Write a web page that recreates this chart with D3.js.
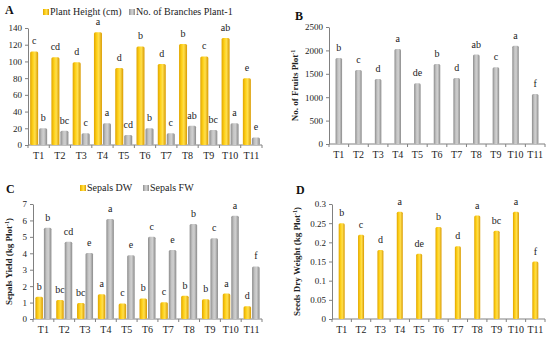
<!DOCTYPE html>
<html>
<head>
<meta charset="utf-8">
<script src="https://cdn.jsdelivr.net/npm/d3@7"></script>
<style>
  body { margin: 0; padding: 0; background: #fff; }
  svg { display: block; font-family: 'Liberation Serif', 'Times New Roman', serif; }
</style>
</head>
<body>
<div id="main"></div>
<script>
const treatments = ['T1', 'T2', 'T3', 'T4', 'T5', 'T6', 'T7', 'T8', 'T9', 'T10', 'T11'];

const plantHeight = [112, 105, 99, 135, 92, 118, 97, 121, 106, 128, 80];
const plantHeightLetters = ['c', 'cd', 'd', 'a', 'd', 'b', 'd', 'b', 'c', 'ab', 'e'];
const branches = [20, 17, 14, 26, 12, 20, 14, 23, 18, 26, 9];
const branchesLetters = ['b', 'bc', 'c', 'a', 'cd', 'b', 'c', 'ab', 'bc', 'a', 'e'];

const fruits = [1840, 1580, 1390, 2030, 1300, 1710, 1410, 1910, 1640, 2100, 1070];
const fruitsLetters = ['b', 'c', 'd', 'a', 'de', 'b', 'd', 'ab', 'c', 'a', 'f'];

const sepalsDW = [1.35, 1.15, 0.98, 1.5, 0.95, 1.25, 1.02, 1.42, 1.2, 1.55, 0.77];
const sepalsDWLetters = ['b', 'bc', 'bc', 'a', 'c', 'b', 'c', 'b', 'b', 'a', 'd'];
const sepalsFW = [5.55, 4.7, 4.02, 6.08, 3.88, 5.0, 4.2, 5.78, 4.92, 6.28, 3.2];
const sepalsFWLetters = ['b', 'cd', 'e', 'a', 'e', 'c', 'e', 'b', 'c', 'a', 'f'];

const seedsDW = [0.25, 0.22, 0.18, 0.28, 0.17, 0.24, 0.19, 0.27, 0.23, 0.28, 0.15];
const seedsDWLetters = ['b', 'c', 'd', 'a', 'de', 'b', 'd', 'a', 'bc', 'a', 'f'];

const svg = d3.select('#main').append('svg').attr('width', 550).attr('height', 338);

const defs = svg.append('defs');
const makeGradient = (id, stops) => {
    const g = defs.append('linearGradient').attr('id', id).attr('x1', '0%').attr('x2', '100%').attr('y1', '0%').attr('y2', '0%');
    stops.forEach(([o, c]) => g.append('stop').attr('offset', o).attr('stop-color', c));
};
makeGradient('gradYellow', [['0%', '#e0a500'], ['35%', '#ffd21a'], ['60%', '#ffdf4d'], ['100%', '#d99a00']]);
makeGradient('gradGrey', [['0%', '#8c8c8c'], ['35%', '#c4c4c4'], ['60%', '#cfcfcf'], ['100%', '#8a8a8a']]);

const panel = (props) => {
    const { x0, x1, y0, y1, max, ticks, fmt, series, barW, yTitle, label, labelX, labelY } = props;
    const g = svg.append('g');
    const x = d3.scaleBand().domain(treatments).range([x0, x1]);
    const y = d3.scaleLinear().domain([0, max]).range([y1, y0]);

    const yAxis = d3.axisLeft(y).tickValues(ticks).tickFormat(fmt).tickSize(3).tickSizeOuter(0);
    const ya = g.append('g').attr('transform', `translate(${x0},0)`).call(yAxis);
    ya.select('.domain').attr('stroke', '#808080');
    ya.selectAll('.tick line').attr('stroke', '#808080');
    ya.selectAll('text').attr('font-size', 9).attr('fill', '#222').attr('font-family', 'Liberation Serif');

    const xa = g.append('g').attr('transform', `translate(0,${y1})`);
    xa.append('line').attr('x1', x0).attr('x2', x1).attr('stroke', '#808080');
    xa.selectAll('line.tk').data(d3.range(treatments.length + 1)).enter().append('line').attr('class', 'tk')
        .attr('x1', (d) => x0 + d * x.step()).attr('x2', (d) => x0 + d * x.step())
        .attr('y1', 0).attr('y2', 3).attr('stroke', '#808080');
    xa.selectAll('text').data(treatments).enter().append('text')
        .attr('x', (d) => x(d) + x.bandwidth() / 2).attr('y', 14)
        .attr('text-anchor', 'middle').attr('font-size', 10).attr('fill', '#222').text((d) => d);

    const groupW = series.length * barW + (series.length - 1);
    series.forEach((s, si) => {
        const off = (x.bandwidth() - groupW) / 2 + si * (barW + 1);
        g.selectAll(null).data(s.values).enter().append('rect')
            .attr('x', (d, i) => x(treatments[i]) + off)
            .attr('y', (d) => y(d))
            .attr('width', barW)
            .attr('height', (d) => y1 - y(d))
            .attr('rx', 1.5)
            .attr('fill', s.fill);
        g.selectAll(null).data(s.values).enter().append('text')
            .attr('x', (d, i) => x(treatments[i]) + off + barW / 2)
            .attr('y', (d) => y(d) - 7)
            .attr('text-anchor', 'middle').attr('font-size', 10).attr('fill', '#222')
            .text((d, i) => s.letters[i]);
    });

    if (yTitle) {
        const t = g.append('text')
            .attr('transform', `translate(${props.titleX},${(y0 + y1) / 2}) rotate(-90)`)
            .attr('text-anchor', 'middle').attr('font-size', 9).attr('font-weight', 'bold').attr('fill', '#222');
        t.append('tspan').text(yTitle);
        t.append('tspan').attr('dy', -3).attr('font-size', 6).text('-1');
        t.append('tspan').attr('dy', 3).text(props.titleEnd || '');
    }
    svg.append('text').attr('x', labelX).attr('y', labelY).attr('font-size', 12).attr('font-weight', 'bold').attr('fill', '#111').text(label);
    return g;
};

panel({
    x0: 28, x1: 262, y0: 28, y1: 145, max: 140, ticks: d3.range(0, 141, 20), fmt: d3.format('d'),
    series: [
        { values: plantHeight, letters: plantHeightLetters, fill: 'url(#gradYellow)' },
        { values: branches, letters: branchesLetters, fill: 'url(#gradGrey)' }
    ],
    barW: 8, label: 'A', labelX: 5, labelY: 14
});

panel({
    x0: 329, x1: 545, y0: 27, y1: 144, max: 2500, ticks: d3.range(0, 2501, 500), fmt: d3.format('d'),
    series: [{ values: fruits, letters: fruitsLetters, fill: 'url(#gradGrey)' }],
    barW: 6.5, yTitle: 'No. of Fruits Plot', titleX: 298, label: 'B', labelX: 295, labelY: 20
});

panel({
    x0: 33, x1: 262, y0: 204, y1: 319, max: 7, ticks: d3.range(0, 8, 1), fmt: d3.format('d'),
    series: [
        { values: sepalsDW, letters: sepalsDWLetters, fill: 'url(#gradYellow)' },
        { values: sepalsFW, letters: sepalsFWLetters, fill: 'url(#gradGrey)' }
    ],
    barW: 7.5, yTitle: 'Sepals Yield (kg Plot', titleEnd: ')', titleX: 12, label: 'C', labelX: 6, labelY: 193
});

panel({
    x0: 332, x1: 545, y0: 204, y1: 319, max: 0.3, ticks: d3.range(0, 7).map((i) => i * 0.05),
    fmt: (d) => d3.format('.2~f')(d),
    series: [{ values: seedsDW, letters: seedsDWLetters, fill: 'url(#gradYellow)' }],
    barW: 6, yTitle: 'Seeds Dry Weight (kg Plot', titleEnd: ')', titleX: 300, label: 'D', labelX: 296, labelY: 194
});

// legends
const legend = (items, yPos) => {
    items.forEach(({ x, text, fill }) => {
        svg.append('rect').attr('x', x).attr('y', yPos - 6).attr('width', 6).attr('height', 6).attr('fill', fill);
        svg.append('text').attr('x', x + 7).attr('y', yPos).attr('font-size', 10).attr('fill', '#222').text(text);
    });
};
legend([
    { x: 43, text: 'Plant Height (cm)', fill: 'url(#gradYellow)' },
    { x: 129, text: 'No. of Branches Plant-1', fill: 'url(#gradGrey)' }
], 15);
legend([
    { x: 80, text: 'Sepals DW', fill: 'url(#gradYellow)' },
    { x: 143, text: 'Sepals FW', fill: 'url(#gradGrey)' }
], 191);
</script>
</body>
</html>
